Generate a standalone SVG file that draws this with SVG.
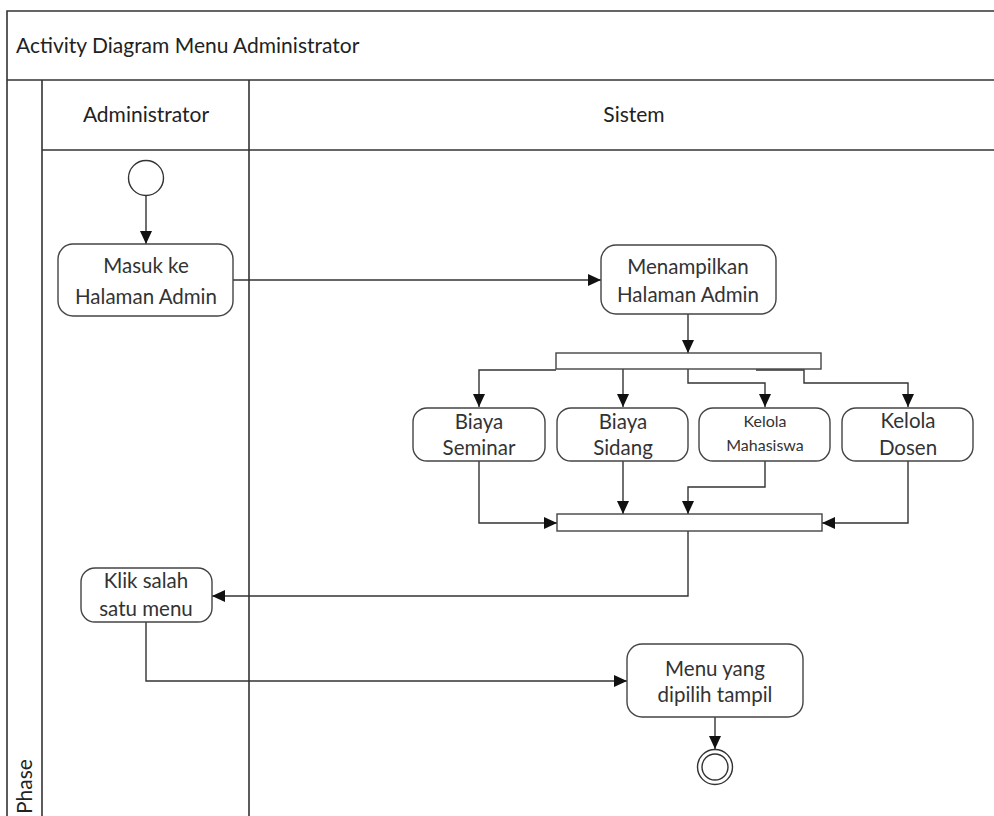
<svg xmlns="http://www.w3.org/2000/svg" width="994" height="816" viewBox="0 0 994 816">
  <defs>
    <marker id="arrow" markerUnits="userSpaceOnUse" markerWidth="14" markerHeight="12" refX="13" refY="6" orient="auto">
      <path d="M0,0 L13,6 L0,12 z" fill="#111"/>
    </marker>
    <style>
      .frame { fill: none; stroke: #333; stroke-width: 1.6; }
      .node rect.act { fill: #fff; stroke: #444; stroke-width: 1.4; }
      .bar { fill: #fff; stroke: #444; stroke-width: 1.4; }
      .lbl { font-family: "Lato", "Liberation Sans", sans-serif; font-size: 20.5px; fill: #333; text-anchor: middle; }
      .small { font-size: 16px; }
      .head { font-family: "Lato", "Liberation Sans", sans-serif; font-size: 21px; fill: #222; }
      .edge { fill: none; stroke: #333; stroke-width: 1.4; marker-end: url(#arrow); }
      .circ { fill: #fff; stroke: #333; stroke-width: 1.4; }
    </style>
  </defs>

  <rect width="994" height="816" fill="#fff"/>

  <!-- swimlane frame -->
  <g id="frame">
    <path class="frame" d="M7,816 V11 H994"/>
    <path class="frame" d="M7,80 H994"/>
    <path class="frame" d="M42,80 V816"/>
    <path class="frame" d="M42,150 H994"/>
    <path class="frame" d="M249,80 V816"/>
    <text class="head" x="16" y="53">Activity Diagram Menu Administrator</text>
    <text class="head" x="146" y="122" text-anchor="middle">Administrator</text>
    <text class="head" x="634" y="122" text-anchor="middle">Sistem</text>
    <text class="head" font-size="19" transform="translate(32,814) rotate(-90)">Phase</text>
  </g>

  <!-- connectors -->
  <g id="connectors">
    <path class="edge" d="M146,196 V244"/>
    <path class="edge" d="M233,280 H601"/>
    <path class="edge" d="M688,314 V353"/>
    <path class="edge" d="M556,370 H479 V407"/>
    <path class="edge" d="M623,369 V407"/>
    <path class="edge" d="M688,369 V383 H765 V407"/>
    <path class="edge" d="M756,370 H804 V383 H908 V407"/>
    <path class="edge" d="M479,461 V523 H557"/>
    <path class="edge" d="M623,461 V514"/>
    <path class="edge" d="M765,461 V487 H688 V514"/>
    <path class="edge" d="M908,461 V523 H822"/>
    <path class="edge" d="M688,531 V596 H212"/>
    <path class="edge" d="M146,622 V681 H627"/>
    <path class="edge" d="M715,717 V749"/>
  </g>

  <!-- initial node -->
  <g id="start" class="node">
    <circle class="circ" cx="146" cy="178" r="17.5"/>
  </g>

  <g id="masuk" class="node">
    <rect class="act" x="58" y="244" width="175" height="72" rx="15"/>
    <text class="lbl" x="146" y="273">Masuk ke</text>
    <text class="lbl" x="146" y="304">Halaman Admin</text>
  </g>

  <g id="menampilkan" class="node">
    <rect class="act" x="601" y="245" width="175" height="69" rx="15"/>
    <text class="lbl" x="688" y="274">Menampilkan</text>
    <text class="lbl" x="688" y="302">Halaman Admin</text>
  </g>

  <!-- fork bar -->
  <g id="fork" class="node">
    <rect class="bar" x="556" y="353" width="265" height="16"/>
  </g>

  <g id="biaya-seminar" class="node">
    <rect class="act" x="413" y="408" width="132" height="53" rx="14"/>
    <text class="lbl" x="479" y="429">Biaya</text>
    <text class="lbl" x="479" y="455">Seminar</text>
  </g>

  <g id="biaya-sidang" class="node">
    <rect class="act" x="557" y="408" width="131" height="53" rx="14"/>
    <text class="lbl" x="623" y="429">Biaya</text>
    <text class="lbl" x="623" y="455">Sidang</text>
  </g>

  <g id="kelola-mahasiswa" class="node">
    <rect class="act" x="699" y="408" width="131" height="53" rx="14"/>
    <text class="lbl small" x="765" y="427">Kelola</text>
    <text class="lbl small" x="765" y="451">Mahasiswa</text>
  </g>

  <g id="kelola-dosen" class="node">
    <rect class="act" x="842" y="408" width="131" height="53" rx="14"/>
    <text class="lbl" x="908" y="428">Kelola</text>
    <text class="lbl" x="908" y="455">Dosen</text>
  </g>

  <!-- join bar -->
  <g id="join" class="node">
    <rect class="bar" x="557" y="514" width="265" height="17"/>
  </g>

  <g id="klik" class="node">
    <rect class="act" x="81" y="568" width="131" height="54" rx="14"/>
    <text class="lbl" x="146" y="588">Klik salah</text>
    <text class="lbl" x="146" y="616">satu menu</text>
  </g>

  <g id="menu-tampil" class="node">
    <rect class="act" x="627" y="644" width="176" height="73" rx="15"/>
    <text class="lbl" x="715" y="676">Menu yang</text>
    <text class="lbl" x="715" y="702">dipilih tampil</text>
  </g>

  <!-- final node -->
  <g id="end" class="node">
    <circle class="circ" cx="715" cy="767" r="17.5"/>
    <circle class="circ" cx="715" cy="767" r="13"/>
  </g>
</svg>
